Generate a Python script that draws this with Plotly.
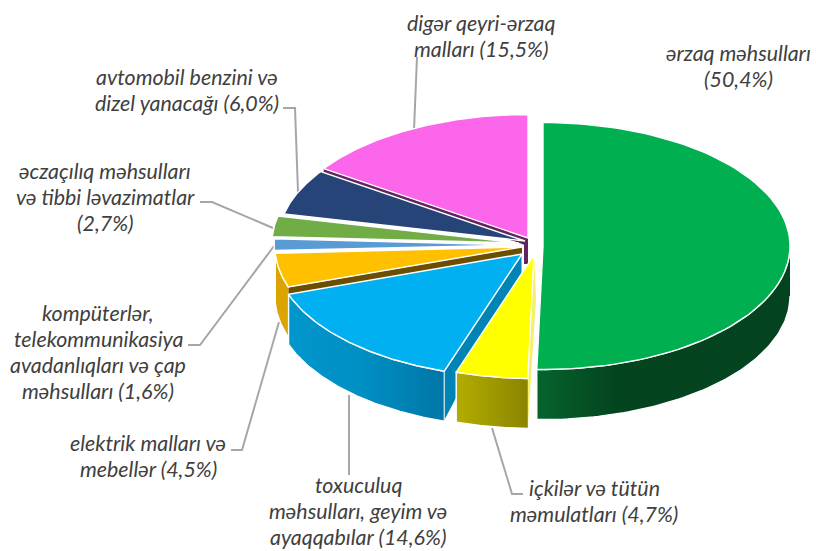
import numpy as np
import plotly.graph_objects as go

# ---------- data ----------
categories = ["ərzaq məhsulları", "içkilər və tütün məmulatları",
              "toxuculuq məhsulları, geyim və ayaqqabılar", "elektrik malları və mebellər",
              "kompüterlər, telekommunikasiya avadanlıqları və çap məhsulları",
              "əczaçılıq məhsulları və tibbi ləvazimatlar",
              "avtomobil benzini və dizel yanacağı", "digər qeyri-ərzaq malları"]
values = [50.4, 4.7, 14.6, 4.5, 1.6, 2.7, 6.0, 15.5]
value_labels = ["50,4%", "4,7%", "14,6%", "4,5%", "1,6%", "2,7%", "6,0%", "15,5%"]

label_lines = [
    ["ərzaq məhsulları", "(50,4%)"],
    ["içkilər və tütün", "məmulatları (4,7%)"],
    ["toxuculuq", "məhsulları, geyim və", "ayaqqabılar (14,6%)"],
    ["elektrik malları və", "mebellər (4,5%)"],
    ["kompüterlər,", "telekommunikasiya", "avadanlıqları və çap", "məhsulları (1,6%)"],
    ["əczaçılıq məhsulları", "və tibbi ləvazimatlar", "(2,7%)"],
    ["avtomobil benzini və", "dizel yanacağı (6,0%)"],
    ["digər qeyri-ərzaq", "malları (15,5%)"],
]

# ---------- styling / layout ----------
W, H = 816, 551
CX, CY, RX, RY, DEPTH = 527, 245, 247, 123.5, 50
explode = [(16, 1), (7, 10), (-5, 9), (-5, 2), (-6, 0), (-8, -2), (-2, -4), (1, -7)]
top_colors = ["#00B050", "#FFFF00", "#00B0F0", "#FFC000", "#5B9BD5", "#70AD47", "#264478", "#FB66EA"]
rim_scales = {
    0: [[0, "#06642E"], [0.3, "#03451F"], [1, "#04431F"]],
    1: [[0, "#B3AD00"], [1, "#8A8500"]],
    2: [[0, "#0096CC"], [0.45, "#0090C4"], [1, "#0076A6"]],
    3: [[0, "#DCA400"], [1, "#DCA400"]],
}
label_pos = [(738, 66), (594, 501), (358, 511), (148, 456), (98, 352), (105, 197), (187, 90), (481, 36)]
LINE_GAP = 25.7
FONT = dict(family="Lato, Carlito, sans-serif", size=21.4, color="#404040", style="italic")
leaders = [
    [(417, 57), (414, 130)],
    [(283, 108), (295, 108), (298, 192)],
    [(200, 202), (212, 202), (273, 228)],
    [(188, 345), (200, 345), (274, 246)],
    [(231, 450), (242, 450), (279, 322)],
    [(349, 395), (349, 475)],
    [(492, 428), (512, 494), (523, 494)],
]

total = sum(values)
edges = np.concatenate([[0], np.cumsum(values)]) / total * 360
fig = go.Figure()


def apex(i):
    return CX + explode[i][0], CY + explode[i][1]


def rim_point(i, deg, drop=0):
    ax, ay = apex(i)
    t = np.radians(deg)
    return ax + RX * np.sin(t), ay - RY * np.cos(t) + drop


def poly(xs, ys, color=None, scale=None, line="white", lw=1.4):
    kw = dict(fillgradient=dict(type="horizontal", colorscale=scale)) if scale else dict(fillcolor=color)
    fig.add_trace(go.Scatter(x=list(xs), y=list(ys), mode="lines", fill="toself",
                             line=dict(color=line, width=lw), hoverinfo="skip", showlegend=False, **kw))


def top(i):
    ax, ay = apex(i)
    ang = np.linspace(edges[i], edges[i + 1], 90)
    px, py = rim_point(i, ang)
    poly(np.r_[ax, px, ax], np.r_[ay, py, ay], color=top_colors[i])


def rim(i):
    a = max(edges[i], 90)
    b = min(edges[i + 1], 270)
    ang = np.linspace(a, b, 90)
    px, py = rim_point(i, ang)
    poly(np.r_[px, px[::-1]], np.r_[py, py[::-1] + DEPTH], scale=rim_scales[i])


def face(i, deg, color, corner_drop, apex_drop, apex_dx=0, lw=1.0):
    ax, ay = apex(i)
    cx, cy = rim_point(i, deg)
    poly([ax, cx, cx, ax + apex_dx, ax], [ay, cy, cy + corner_drop, ay + apex_drop, ay], color=color, lw=lw)


# back to front
# purple cut of the magenta slice, a strip plus a short post at the centre
face(7, edges[7], "#63255F", 8, 8, lw=0)
mx, my = apex(7)
poly([mx - 4, mx, mx, mx - 4, mx - 4], [my, my, my + 26, my + 26, my], color="#63255F", lw=0)
top(7)
top(6)
top(5)
top(4)
rim(3)
face(3, edges[3], "#6B4E00", DEPTH, DEPTH, lw=0)
top(3)
rim(2)
face(2, edges[2], "#0084B5", DEPTH, 20)
top(2)
face(1, edges[1], "#F5F06A", DEPTH, 44, apex_dx=2, lw=0)
rim(1)
top(1)
rim(0)
top(0)

# leader lines
shapes = []
for pts in leaders:
    path = "M " + " L ".join(f"{x},{y}" for x, y in pts)
    shapes.append(dict(type="path", path=path, layer="below", xref="x", yref="y",
                       line=dict(color="#A6A6A6", width=2)))

# labels
annotations = []
for lines, (lx, ly) in zip(label_lines, label_pos):
    n = len(lines)
    for k, s in enumerate(lines):
        annotations.append(dict(x=lx, y=ly + (k - (n - 1) / 2) * LINE_GAP, text=s, showarrow=False,
                                xref="x", yref="y", xanchor="center", yanchor="middle", font=FONT))

fig.update_layout(
    width=W, height=H, margin=dict(l=0, r=0, t=0, b=0),
    paper_bgcolor="white", plot_bgcolor="white", showlegend=False,
    xaxis=dict(range=[0, W], visible=False, fixedrange=True),
    yaxis=dict(range=[H, 0], visible=False, fixedrange=True),
    shapes=shapes, annotations=annotations,
)
fig.write_html("out.html", config={"displayModeBar": False},
               post_script="document.body.style.margin='0';document.documentElement.style.overflow='hidden';")
